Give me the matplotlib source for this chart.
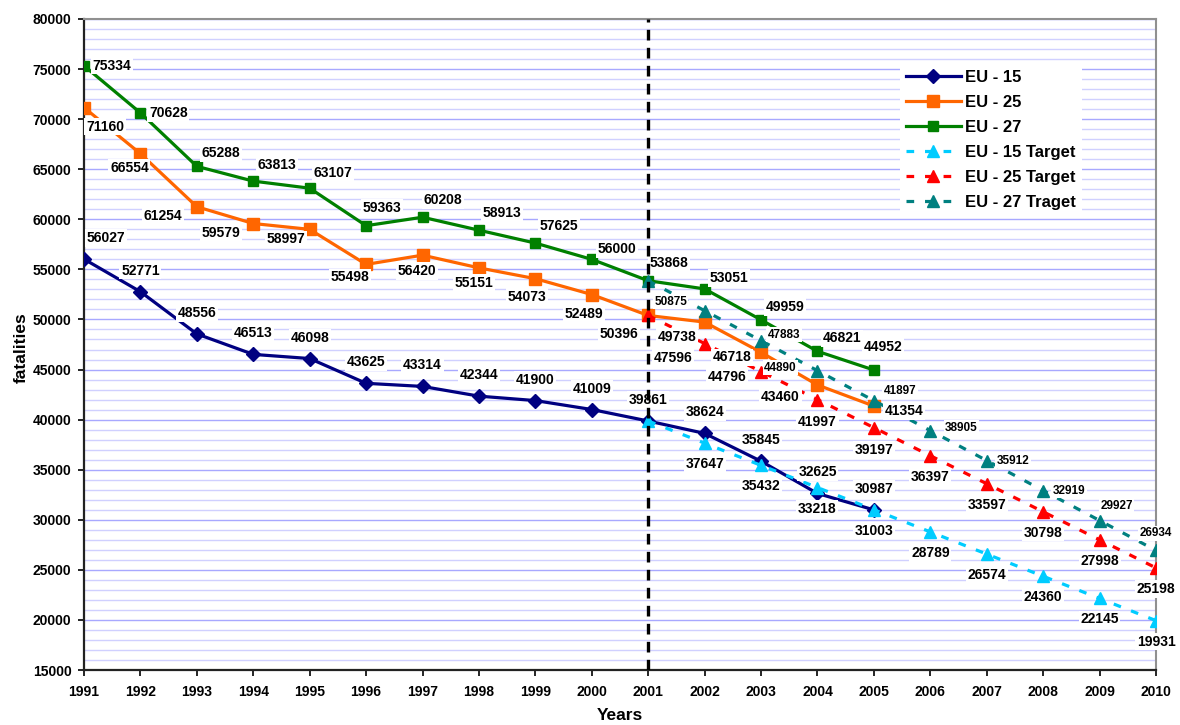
import matplotlib
matplotlib.use('Agg')
import matplotlib.pyplot as plt
from matplotlib.ticker import MultipleLocator

plt.rcParams['font.family'] = 'Liberation Sans'
plt.rcParams['font.weight'] = 'bold'

# Data
years = [1991, 1992, 1993, 1994, 1995, 1996, 1997, 1998, 1999, 2000,
         2001, 2002, 2003, 2004, 2005]
target_years = [2001, 2002, 2003, 2004, 2005, 2006, 2007, 2008, 2009, 2010]

eu15 = [56027, 52771, 48556, 46513, 46098, 43625, 43314, 42344, 41900, 41009,
        39861, 38624, 35845, 32625, 30987]
eu25 = [71160, 66554, 61254, 59579, 58997, 55498, 56420, 55151, 54073, 52489,
        50396, 49738, 46718, 43460, 41354]
eu27 = [75334, 70628, 65288, 63813, 63107, 59363, 60208, 58913, 57625, 56000,
        53868, 53051, 49959, 46821, 44952]

eu15_target = [39861, 37647, 35432, 33218, 31003, 28789, 26574, 24360, 22145, 19931]
eu25_target = [50396, 47596, 44796, 41997, 39197, 36397, 33597, 30798, 27998, 25198]
eu27_target = [53868, 50875, 47883, 44890, 41897, 38905, 35912, 32919, 29927, 26934]

# label offsets in pixels (dx right, dy down)
eu15_off = [(22, -21)] + [(0, -21)] * 14
eu25_off = [(21, 19), (-11, 14), (-34, 9), (-32, 9), (-24, 10), (-16, 13), (-6, 16),
            (-5, 15), (-8, 18), (-8, 19), (-29, 19), (-28, 15), (-29, 5), (-37, 12), (30, 5)]
eu27_off = [(28, 0), (28, 0), (24, -13), (24, -16), (23, -15), (16, -18), (20, -17),
            (23, -17), (24, -17), (25, -10), (21, -18), (24, -11), (24, -13), (25, -13), (9, -23)]
eu15t_off = [None] + [(0, 21)] * 9
eu25t_off = [None, (-32, 14), (-34, 5), (0, 22), (0, 22), (0, 21), (0, 21), (0, 21), (0, 21), (0, 21)]
eu27t_off = [None, (-34, -9), (23, -6), (-37, -3), (26, -10), (31, -3), (26, 0), (26, 0), (17, -15), (0, -17)]

fig = plt.figure(figsize=(11.8, 7.25), dpi=100)
ax = fig.add_axes([84 / 1180, 1 - 670 / 725, (1156 - 84) / 1180, (670 - 19) / 725])

ax.set_xlim(1991, 2010)
ax.set_ylim(15000, 80000)
ax.set_xticks(years + target_years[5:])
ax.yaxis.set_major_locator(MultipleLocator(5000))
ax.yaxis.set_minor_locator(MultipleLocator(1000))
ax.grid(True, which='minor', axis='y', color='#D0D0FF', lw=1, zorder=0)
ax.grid(True, which='major', axis='y', color='#A8A8FF', lw=1, zorder=0)
ax.set_axisbelow(True)
ax.tick_params(axis='both', which='major', labelsize=10, length=4, width=1.2, direction='out', pad=5)
ax.tick_params(axis='x', which='major', pad=7)
ax.tick_params(axis='y', which='minor', length=0)
for s in ['left', 'bottom']:
    ax.spines[s].set_color('#222222')
    ax.spines[s].set_linewidth(1.6)
for s in ['top', 'right']:
    ax.spines[s].set_color('#909090')
    ax.spines[s].set_linewidth(1.5)

lw = 2.3
dash = (0, (2.4, 3.4))
l15, = ax.plot(years, eu15, color='#000080', lw=lw, marker='D', ms=7, zorder=3, label='EU - 15')
l25, = ax.plot(years, eu25, color='#FF6600', lw=lw, marker='s', ms=8, zorder=3, label='EU - 25')
l27, = ax.plot(years, eu27, color='#008000', lw=lw, marker='s', ms=7, zorder=3, label='EU - 27')
t15, = ax.plot(target_years, eu15_target, color='#00CCFF', lw=lw, ls=dash, marker='^', ms=9,
               zorder=3, label='EU - 15 Target')
t25, = ax.plot(target_years, eu25_target, color='#FF0000', lw=lw, ls=dash, marker='^', ms=9,
               zorder=3, label='EU - 25 Target')
t27, = ax.plot(target_years, eu27_target, color='#008080', lw=lw, ls=dash, marker='^', ms=8,
               zorder=3, label='EU - 27 Traget')

box = dict(boxstyle='square,pad=0.12', fc='white', ec='none')


def add_labels(xs, vals, offs, size):
    for x, v, off in zip(xs, vals, offs):
        if off is None:
            continue
        ax.annotate(str(v), (x, v), xytext=(off[0] * 0.72, -off[1] * 0.72),
                    textcoords='offset points', ha='center', va='center',
                    fontsize=size, fontweight='bold', bbox=box, zorder=4)


add_labels(years, eu15, eu15_off, 10)
add_labels(years, eu25, eu25_off, 10)
add_labels(years, eu27, eu27_off, 10)
add_labels(target_years, eu15_target, eu15t_off, 10)
add_labels(target_years, eu25_target, eu25t_off, 10)
add_labels(target_years, eu27_target, eu27t_off, 8.5)

ax.axvline(2001, color='black', lw=2.4, ls=(0, (3.2, 2.2)), zorder=5)

leg = ax.legend(handles=[l15, l25, l27, t15, t25, t27], loc='upper left',
                bbox_to_anchor=(900 / 1180, 1 - 64 / 725), bbox_transform=fig.transFigure,
                fontsize=12, frameon=True, fancybox=False, numpoints=1,
                handlelength=3.3, handletextpad=0.25, labelspacing=0.6,
                borderpad=0.35, borderaxespad=0)
leg.get_frame().set_facecolor('white')
leg.get_frame().set_edgecolor('none')
leg.get_frame().set_alpha(1)
leg.set_zorder(6)

fig.text(21 / 1180, 1 - 348 / 725, 'fatalities', rotation=90, ha='center', va='center',
         fontsize=12.5, fontweight='bold')
fig.text(620 / 1180, 1 - 716 / 725, 'Years', ha='center', va='center',
         fontsize=12.5, fontweight='bold')

fig.savefig('out.png', dpi=100)
